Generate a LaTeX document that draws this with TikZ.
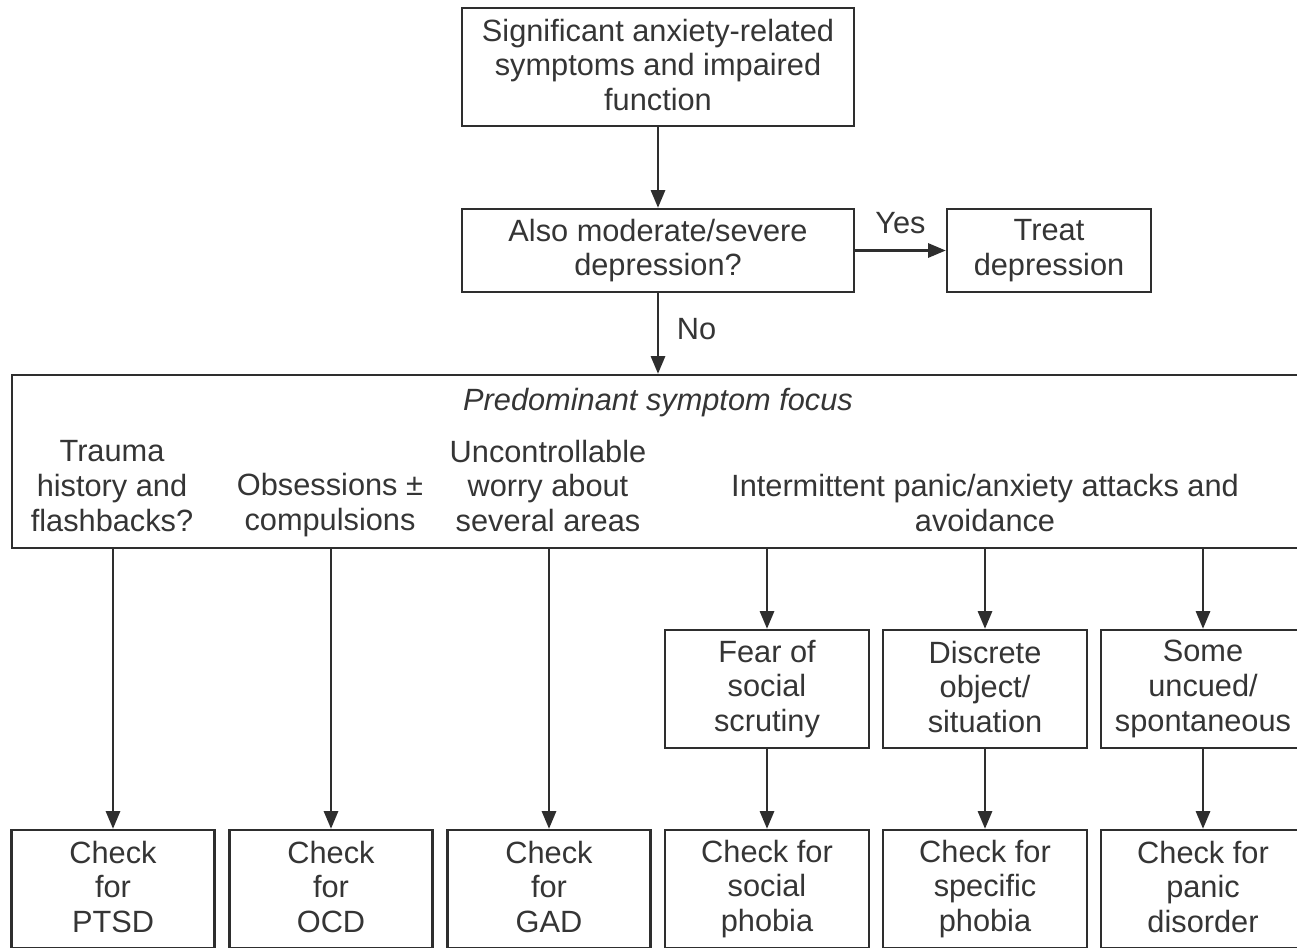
\documentclass[tikz,border=0pt]{standalone}
\usepackage{fontspec}
\setmainfont{Liberation Sans}
\usetikzlibrary{arrows.meta}
\definecolor{ink}{HTML}{2E2E2E}
\definecolor{txt}{HTML}{353535}
\newcommand\mytopstrut{\rule{0pt}{16.5pt}}
\newcommand\mybotstrut{\rule[-2.5pt]{0pt}{2.5pt}}
\begin{document}
\begin{tikzpicture}[x=0.02cm,y=-0.02cm,
  box/.style={draw=ink,line width=1.4pt,rectangle,inner sep=0pt,align=center,text=txt,
    font=\fontsize{17.5}{19.8}\selectfont,
    execute at begin node=\mytopstrut, execute at end node=\mybotstrut},
  lbl/.style={inner sep=0pt,align=center,text=txt,font=\fontsize{17.5}{19.8}\selectfont,
    execute at begin node=\mytopstrut, execute at end node=\mybotstrut},
  tag/.style={inner sep=0pt,text=txt,font=\fontsize{17.5}{19.8}\selectfont},
  arr/.style={draw=ink,line width=1.4pt,-{Triangle[length=10pt,width=8pt]}}]
\useasboundingbox (0,0) rectangle (1297,947);
\clip (0,0) rectangle (1297,947);
\fill[white] (0,0) rectangle (1297,947);
% top
\node[box,minimum width=392*0.02cm,minimum height=118*0.02cm] (top) at (658,67)
  {Significant anxiety-related\\symptoms and impaired\\function};
\node[box,minimum width=392*0.02cm,minimum height=83*0.02cm] (dep) at (658,250.5)
  {Also moderate/severe\\depression?};
\node[box,minimum width=204*0.02cm,minimum height=83*0.02cm] (treat) at (1049,250.5)
  {Treat\\depression};
\node[box,minimum width=1298*0.02cm,minimum height=173*0.02cm] (focus) at (661,461.5) {};
\node[lbl,font=\fontsize{17.5}{19.8}\selectfont\itshape] (pf) at (658,399) {Predominant symptom focus};
\node[lbl] (c1) at (112,488) {Trauma\\history and\\flashbacks?};
\node[lbl] (c2) at (330,505) {Obsessions ±\\compulsions};
\node[lbl] (c3) at (548,488) {Uncontrollable\\worry about\\several areas};
\node[lbl] (c4) at (985,505) {Intermittent panic/anxiety attacks and\\avoidance};
% middle boxes
\node[box,minimum width=204*0.02cm,minimum height=118*0.02cm] (m1) at (767,689) {Fear of\\social\\scrutiny};
\node[box,minimum width=204*0.02cm,minimum height=118*0.02cm] (m2) at (985,689) {Discrete\\object/\\situation};
\node[box,minimum width=204*0.02cm,minimum height=118*0.02cm] (m3) at (1203,689) {Some\\uncued/\\spontaneous};
% bottom boxes
\node[box,minimum width=203*0.02cm,minimum height=118*0.02cm] (b1) at (113,889) {Check\\for\\PTSD};
\node[box,minimum width=203*0.02cm,minimum height=118*0.02cm] (b2) at (331,889) {Check\\for\\OCD};
\node[box,minimum width=203*0.02cm,minimum height=118*0.02cm] (b3) at (549,889) {Check\\for\\GAD};
\node[box,minimum width=204*0.02cm,minimum height=118*0.02cm] (b4) at (767,889) {Check for\\social\\phobia};
\node[box,minimum width=204*0.02cm,minimum height=118*0.02cm] (b5) at (985,889) {Check for\\specific\\phobia};
\node[box,minimum width=204*0.02cm,minimum height=118*0.02cm] (b6) at (1203,889) {Check for\\panic\\disorder};
% connectors
\draw[arr] (top) -- (dep);
\draw[arr] (dep) -- node[tag,above=9pt,pos=0.5] (yes) {Yes} (treat);
\draw[arr] (dep.south) -- node[tag,right=10pt,pos=0.45] (no) {No} (focus.north -| dep.south);
\draw[arr] (focus.south -| b1.north) -- (b1);
\draw[arr] (focus.south -| b2.north) -- (b2);
\draw[arr] (focus.south -| b3.north) -- (b3);
\draw[arr] (focus.south -| m1.north) -- (m1);
\draw[arr] (focus.south -| m2.north) -- (m2);
\draw[arr] (focus.south -| m3.north) -- (m3);
\draw[arr] (m1) -- (b4);
\draw[arr] (m2) -- (b5);
\draw[arr] (m3) -- (b6);
\end{tikzpicture}
\end{document}
